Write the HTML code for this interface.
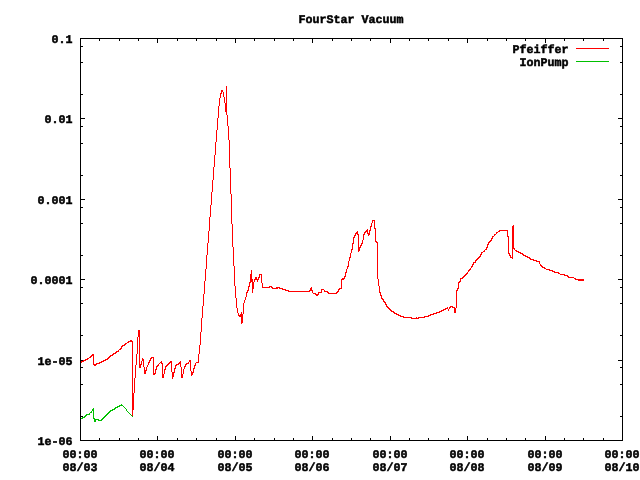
<!DOCTYPE html>
<html><head><meta charset="utf-8"><title>FourStar Vacuum</title>
<style>
html,body{margin:0;padding:0;background:#fff;}
body{width:640px;height:480px;overflow:hidden;position:relative;}
svg{position:absolute;left:0;top:0;display:block;}
text{font-family:"Liberation Mono",monospace;font-weight:bold;font-size:11.667px;fill:#000;stroke:#000;stroke-width:0.5px;stroke-linejoin:miter;text-rendering:geometricPrecision;}
</style></head><body>
<svg width="640" height="480" viewBox="0 0 640 480">
<rect x="0" y="0" width="640" height="480" fill="#ffffff"/>
<g fill="#000" shape-rendering="crispEdges">
<rect x="80" y="38" width="543" height="1"/>
<rect x="80" y="440" width="543" height="1"/>
<rect x="80" y="38" width="1" height="403"/>
<rect x="622" y="38" width="1" height="403"/>
<rect x="81" y="416" width="2" height="1"/>
<rect x="620" y="416" width="2" height="1"/>
<rect x="81" y="384" width="2" height="1"/>
<rect x="620" y="384" width="2" height="1"/>
<rect x="81" y="367" width="2" height="1"/>
<rect x="620" y="367" width="2" height="1"/>
<rect x="81" y="360" width="4" height="1"/>
<rect x="618" y="360" width="4" height="1"/>
<rect x="81" y="335" width="2" height="1"/>
<rect x="620" y="335" width="2" height="1"/>
<rect x="81" y="303" width="2" height="1"/>
<rect x="620" y="303" width="2" height="1"/>
<rect x="81" y="287" width="2" height="1"/>
<rect x="620" y="287" width="2" height="1"/>
<rect x="81" y="279" width="4" height="1"/>
<rect x="618" y="279" width="4" height="1"/>
<rect x="81" y="255" width="2" height="1"/>
<rect x="620" y="255" width="2" height="1"/>
<rect x="81" y="223" width="2" height="1"/>
<rect x="620" y="223" width="2" height="1"/>
<rect x="81" y="207" width="2" height="1"/>
<rect x="620" y="207" width="2" height="1"/>
<rect x="81" y="199" width="4" height="1"/>
<rect x="618" y="199" width="4" height="1"/>
<rect x="81" y="175" width="2" height="1"/>
<rect x="620" y="175" width="2" height="1"/>
<rect x="81" y="143" width="2" height="1"/>
<rect x="620" y="143" width="2" height="1"/>
<rect x="81" y="126" width="2" height="1"/>
<rect x="620" y="126" width="2" height="1"/>
<rect x="81" y="118" width="4" height="1"/>
<rect x="618" y="118" width="4" height="1"/>
<rect x="81" y="94" width="2" height="1"/>
<rect x="620" y="94" width="2" height="1"/>
<rect x="81" y="62" width="2" height="1"/>
<rect x="620" y="62" width="2" height="1"/>
<rect x="81" y="46" width="2" height="1"/>
<rect x="620" y="46" width="2" height="1"/>
<rect x="99" y="438" width="1" height="2"/>
<rect x="99" y="39" width="1" height="2"/>
<rect x="119" y="438" width="1" height="2"/>
<rect x="119" y="39" width="1" height="2"/>
<rect x="138" y="438" width="1" height="2"/>
<rect x="138" y="39" width="1" height="2"/>
<rect x="157" y="436" width="1" height="4"/>
<rect x="157" y="39" width="1" height="4"/>
<rect x="177" y="438" width="1" height="2"/>
<rect x="177" y="39" width="1" height="2"/>
<rect x="196" y="438" width="1" height="2"/>
<rect x="196" y="39" width="1" height="2"/>
<rect x="216" y="438" width="1" height="2"/>
<rect x="216" y="39" width="1" height="2"/>
<rect x="235" y="436" width="1" height="4"/>
<rect x="235" y="39" width="1" height="4"/>
<rect x="254" y="438" width="1" height="2"/>
<rect x="254" y="39" width="1" height="2"/>
<rect x="274" y="438" width="1" height="2"/>
<rect x="274" y="39" width="1" height="2"/>
<rect x="293" y="438" width="1" height="2"/>
<rect x="293" y="39" width="1" height="2"/>
<rect x="312" y="436" width="1" height="4"/>
<rect x="312" y="39" width="1" height="4"/>
<rect x="332" y="438" width="1" height="2"/>
<rect x="332" y="39" width="1" height="2"/>
<rect x="351" y="438" width="1" height="2"/>
<rect x="351" y="39" width="1" height="2"/>
<rect x="370" y="438" width="1" height="2"/>
<rect x="370" y="39" width="1" height="2"/>
<rect x="390" y="436" width="1" height="4"/>
<rect x="390" y="39" width="1" height="4"/>
<rect x="409" y="438" width="1" height="2"/>
<rect x="409" y="39" width="1" height="2"/>
<rect x="428" y="438" width="1" height="2"/>
<rect x="428" y="39" width="1" height="2"/>
<rect x="448" y="438" width="1" height="2"/>
<rect x="448" y="39" width="1" height="2"/>
<rect x="467" y="436" width="1" height="4"/>
<rect x="467" y="39" width="1" height="4"/>
<rect x="487" y="438" width="1" height="2"/>
<rect x="487" y="39" width="1" height="2"/>
<rect x="506" y="438" width="1" height="2"/>
<rect x="506" y="39" width="1" height="2"/>
<rect x="525" y="438" width="1" height="2"/>
<rect x="525" y="39" width="1" height="2"/>
<rect x="545" y="436" width="1" height="4"/>
<rect x="545" y="39" width="1" height="4"/>
<rect x="564" y="438" width="1" height="2"/>
<rect x="564" y="39" width="1" height="2"/>
<rect x="583" y="438" width="1" height="2"/>
<rect x="583" y="39" width="1" height="2"/>
<rect x="603" y="438" width="1" height="2"/>
<rect x="603" y="39" width="1" height="2"/>
</g>
<g shape-rendering="crispEdges"><rect x="576" y="48" width="33" height="1" fill="#ff0000"/><rect x="576" y="61" width="33" height="1" fill="#00c000"/></g>
<path fill="#ff0000" shape-rendering="crispEdges" d="M81 361h1v2h-1zM82 361h1v1h-1zM83 360h1v2h-1zM84 360h1v1h-1zM85 359h1v2h-1zM86 359h1v1h-1zM87 358h1v2h-1zM88 358h1v1h-1zM89 357h1v1h-1zM90 356h1v2h-1zM91 355h1v2h-1zM92 354h1v2h-1zM93 354h1v11h-1zM94 364h1v2h-1zM95 364h1v2h-1zM96 363h1v2h-1zM97 363h2v1h-2zM99 362h1v2h-1zM100 362h1v1h-1zM101 361h1v2h-1zM102 361h1v1h-1zM103 360h1v2h-1zM104 360h1v1h-1zM105 359h1v2h-1zM106 359h1v1h-1zM107 358h1v2h-1zM108 357h1v2h-1zM109 356h1v2h-1zM110 355h1v2h-1zM111 355h1v1h-1zM112 354h1v2h-1zM113 353h1v2h-1zM114 353h1v1h-1zM115 352h1v2h-1zM116 351h1v2h-1zM117 351h1v1h-1zM118 350h1v2h-1zM119 349h1v1h-1zM120 348h1v2h-1zM121 346h1v3h-1zM122 345h1v2h-1zM123 345h1v1h-1zM124 344h1v2h-1zM125 343h1v2h-1zM126 343h1v1h-1zM127 342h1v1h-1zM128 341h1v2h-1zM129 341h1v1h-1zM130 340h1v2h-1zM131 340h1v2h-1zM132 341h1v76h-1zM133 393h1v17h-1zM134 378h1v15h-1zM135 365h1v13h-1zM136 354h1v11h-1zM137 337h1v17h-1zM138 330h1v7h-1zM139 330h1v38h-1zM140 364h1v4h-1zM141 361h1v4h-1zM142 358h1v3h-1zM143 359h1v8h-1zM144 367h1v7h-1zM145 370h1v4h-1zM146 367h1v4h-1zM147 365h1v2h-1zM148 362h1v3h-1zM149 360h1v3h-1zM150 358h1v3h-1zM151 357h1v2h-1zM152 357h1v1h-1zM153 357h1v18h-1zM154 373h1v2h-1zM155 369h1v5h-1zM156 366h1v4h-1zM157 365h1v2h-1zM158 364h1v2h-1zM159 363h1v1h-1zM160 362h1v1h-1zM161 361h1v3h-1zM162 363h1v15h-1zM163 374h1v4h-1zM164 369h1v5h-1zM165 366h1v4h-1zM166 365h1v2h-1zM167 364h1v2h-1zM168 363h1v2h-1zM169 362h1v2h-1zM170 361h1v2h-1zM171 361h1v11h-1zM172 372h1v7h-1zM173 372h1v5h-1zM174 368h1v5h-1zM175 365h1v4h-1zM176 364h1v2h-1zM177 364h1v1h-1zM178 363h1v2h-1zM179 362h1v2h-1zM180 361h1v6h-1zM181 367h1v11h-1zM182 374h1v4h-1zM183 369h1v5h-1zM184 366h1v3h-1zM185 364h1v3h-1zM186 363h1v2h-1zM187 363h1v1h-1zM188 362h1v2h-1zM189 360h1v2h-1zM190 360h1v11h-1zM191 371h1v5h-1zM192 372h1v3h-1zM193 368h1v5h-1zM194 365h1v4h-1zM195 363h1v3h-1zM196 362h2v1h-2zM198 354h1v9h-1zM199 345h1v9h-1zM200 332h1v13h-1zM201 318h1v14h-1zM202 306h1v12h-1zM203 294h1v12h-1zM204 281h1v13h-1zM205 269h1v12h-1zM206 255h1v14h-1zM207 243h1v12h-1zM208 231h1v12h-1zM209 217h1v14h-1zM210 205h1v12h-1zM211 192h1v13h-1zM212 180h1v12h-1zM213 167h1v13h-1zM214 155h1v12h-1zM215 142h1v13h-1zM216 130h1v12h-1zM217 118h1v12h-1zM218 106h1v12h-1zM219 98h1v8h-1zM220 93h1v5h-1zM221 90h1v4h-1zM222 90h1v2h-1zM223 92h1v5h-1zM224 97h1v6h-1zM225 103h1v9h-1zM226 86h1v29h-1zM227 115h1v11h-1zM228 126h1v14h-1zM229 140h1v28h-1zM230 168h1v26h-1zM231 194h1v30h-1zM232 224h1v23h-1zM233 247h1v19h-1zM234 266h1v20h-1zM235 286h1v12h-1zM236 298h1v10h-1zM237 308h1v5h-1zM238 313h1v3h-1zM239 315h1v2h-1zM240 314h1v3h-1zM241 312h1v12h-1zM242 314h1v9h-1zM243 303h1v11h-1zM244 300h1v3h-1zM245 297h1v3h-1zM246 292h1v5h-1zM247 290h1v3h-1zM248 286h1v5h-1zM249 282h1v5h-1zM250 274h1v9h-1zM251 270h1v12h-1zM252 279h1v14h-1zM253 282h1v7h-1zM254 279h1v3h-1zM255 277h1v3h-1zM256 277h1v3h-1zM257 279h1v3h-1zM258 277h1v3h-1zM259 274h1v4h-1zM260 274h1v1h-1zM261 274h1v9h-1zM262 283h1v5h-1zM263 287h6v1h-6zM269 286h1v2h-1zM270 286h1v1h-1zM271 286h1v2h-1zM272 287h1v2h-1zM273 288h3v1h-3zM276 287h1v2h-1zM277 287h1v2h-1zM278 287h1v1h-1zM279 287h1v2h-1zM280 288h2v1h-2zM282 288h1v2h-1zM283 289h2v1h-2zM285 289h1v2h-1zM286 290h2v1h-2zM288 290h1v2h-1zM289 291h20v1h-20zM309 290h1v2h-1zM310 288h1v3h-1zM311 287h1v4h-1zM312 290h1v3h-1zM313 293h2v1h-2zM315 293h1v2h-1zM316 294h1v2h-1zM317 294h1v2h-1zM318 292h1v3h-1zM319 292h2v1h-2zM321 289h1v4h-1zM322 289h2v1h-2zM324 290h1v2h-1zM325 291h2v1h-2zM327 291h1v2h-1zM328 292h1v2h-1zM329 293h7v1h-7zM336 292h1v2h-1zM337 291h1v2h-1zM338 289h1v3h-1zM339 288h1v2h-1zM340 288h1v1h-1zM341 279h1v10h-1zM342 278h1v2h-1zM343 278h1v2h-1zM344 276h1v3h-1zM345 272h1v5h-1zM346 269h1v4h-1zM347 266h1v3h-1zM348 261h1v6h-1zM349 257h1v4h-1zM350 253h1v5h-1zM351 249h1v4h-1zM352 243h1v7h-1zM353 237h1v7h-1zM354 235h1v3h-1zM355 233h1v3h-1zM356 232h1v2h-1zM357 231h1v4h-1zM358 234h1v18h-1zM359 247h1v4h-1zM360 245h1v3h-1zM361 243h1v3h-1zM362 240h1v4h-1zM363 234h1v6h-1zM364 232h1v3h-1zM365 231h1v2h-1zM366 230h1v2h-1zM367 229h1v5h-1zM368 233h1v3h-1zM369 230h1v5h-1zM370 226h1v5h-1zM371 223h1v4h-1zM372 220h1v3h-1zM373 220h1v1h-1zM374 220h1v9h-1zM375 228h1v14h-1zM376 241h1v2h-1zM377 242h1v37h-1zM378 279h1v7h-1zM379 286h1v7h-1zM380 292h1v4h-1zM381 295h1v4h-1zM382 298h1v2h-1zM383 299h1v3h-1zM384 301h1v2h-1zM385 302h1v3h-1zM386 304h1v3h-1zM387 306h1v2h-1zM388 307h1v2h-1zM389 308h1v2h-1zM390 309h1v2h-1zM391 310h1v2h-1zM392 311h1v1h-1zM393 311h1v2h-1zM394 312h1v2h-1zM395 313h1v1h-1zM396 313h1v2h-1zM397 314h1v1h-1zM398 314h1v2h-1zM399 315h1v1h-1zM400 315h1v2h-1zM401 316h2v1h-2zM403 316h1v2h-1zM404 317h7v1h-7zM411 317h1v2h-1zM412 318h4v1h-4zM416 317h1v2h-1zM417 318h1v1h-1zM418 317h1v2h-1zM419 317h5v1h-5zM424 316h1v2h-1zM425 316h3v1h-3zM428 315h1v2h-1zM429 315h1v1h-1zM430 314h1v2h-1zM431 314h2v1h-2zM433 313h1v2h-1zM434 313h2v1h-2zM436 312h1v2h-1zM437 312h2v1h-2zM439 311h1v2h-1zM440 311h1v1h-1zM441 310h1v2h-1zM442 310h1v1h-1zM443 309h1v2h-1zM444 309h1v1h-1zM445 308h1v2h-1zM446 308h1v1h-1zM447 307h1v2h-1zM448 309h1v2h-1zM449 307h1v2h-1zM450 306h1v2h-1zM451 306h1v1h-1zM452 306h1v2h-1zM453 307h1v1h-1zM454 307h1v6h-1zM455 308h1v5h-1zM456 290h1v18h-1zM457 288h1v3h-1zM458 282h1v7h-1zM459 281h1v2h-1zM460 278h1v4h-1zM461 278h1v1h-1zM462 277h1v2h-1zM463 276h1v2h-1zM464 275h1v2h-1zM465 274h1v2h-1zM466 273h1v2h-1zM467 272h1v2h-1zM468 270h1v2h-1zM469 269h1v2h-1zM470 268h1v2h-1zM471 266h1v2h-1zM472 264h1v3h-1zM473 262h1v3h-1zM474 262h1v1h-1zM475 260h1v3h-1zM476 259h1v2h-1zM477 258h1v2h-1zM478 257h1v2h-1zM479 256h1v2h-1zM480 254h1v3h-1zM481 252h1v3h-1zM482 252h1v1h-1zM483 251h1v1h-1zM484 250h1v2h-1zM485 249h1v1h-1zM486 247h1v3h-1zM487 244h1v4h-1zM488 242h1v3h-1zM489 241h1v2h-1zM490 240h1v2h-1zM491 238h1v3h-1zM492 236h1v3h-1zM493 236h1v1h-1zM494 234h1v2h-1zM495 234h1v1h-1zM496 232h1v2h-1zM497 232h1v1h-1zM498 231h1v1h-1zM499 230h1v2h-1zM500 230h7v1h-7zM507 230h1v7h-1zM508 236h1v18h-1zM509 253h1v3h-1zM510 255h1v3h-1zM511 257h1v1h-1zM512 226h1v33h-1zM513 225h1v24h-1zM514 248h1v2h-1zM515 250h1v1h-1zM516 250h1v2h-1zM517 251h1v1h-1zM518 251h1v2h-1zM519 252h1v1h-1zM520 252h1v2h-1zM521 253h1v1h-1zM522 253h1v2h-1zM523 254h1v2h-1zM524 255h1v1h-1zM525 255h1v2h-1zM526 256h1v1h-1zM527 256h1v2h-1zM528 257h1v1h-1zM529 257h1v2h-1zM530 258h1v2h-1zM531 259h2v1h-2zM533 259h1v2h-1zM534 260h2v1h-2zM536 260h1v2h-1zM537 261h2v1h-2zM539 261h1v3h-1zM540 264h1v2h-1zM541 265h1v2h-1zM542 266h1v2h-1zM543 267h1v1h-1zM544 267h1v2h-1zM545 268h1v1h-1zM546 269h3v1h-3zM549 269h1v2h-1zM550 270h2v1h-2zM552 270h1v2h-1zM553 271h1v1h-1zM554 271h1v2h-1zM555 272h3v1h-3zM558 272h1v2h-1zM559 273h1v1h-1zM560 274h4v1h-4zM564 274h1v2h-1zM565 275h2v1h-2zM567 275h1v2h-1zM568 276h1v2h-1zM569 277h5v1h-5zM574 278h1v1h-1zM575 278h1v2h-1zM576 279h2v1h-2zM578 279h1v2h-1zM579 279h1v2h-1zM580 279h1v2h-1zM581 279h1v2h-1zM582 279h1v2h-1zM583 279h1v2h-1z"/>
<path fill="#00c000" shape-rendering="crispEdges" d="M81 418h1v1h-1zM82 417h1v2h-1zM83 417h1v1h-1zM84 416h1v2h-1zM85 415h1v2h-1zM86 414h1v2h-1zM87 414h2v1h-2zM89 413h1v2h-1zM90 412h1v1h-1zM91 411h1v2h-1zM92 409h1v2h-1zM93 408h1v11h-1zM94 418h1v4h-1zM95 419h1v3h-1zM96 419h2v1h-2zM98 419h1v2h-1zM99 420h2v1h-2zM101 419h1v2h-1zM102 418h1v2h-1zM103 417h1v2h-1zM104 416h1v2h-1zM105 415h1v2h-1zM106 414h1v2h-1zM107 413h1v2h-1zM108 412h1v2h-1zM109 411h1v2h-1zM110 410h1v2h-1zM111 410h1v1h-1zM112 409h1v2h-1zM113 409h1v1h-1zM114 408h1v2h-1zM115 407h1v2h-1zM116 407h1v1h-1zM117 406h1v2h-1zM118 406h1v1h-1zM119 405h1v2h-1zM120 405h1v1h-1zM121 404h1v2h-1zM122 405h1v1h-1zM123 406h1v1h-1zM124 407h1v1h-1zM125 408h1v1h-1zM126 409h1v2h-1zM127 411h1v1h-1zM128 412h1v1h-1zM129 413h1v1h-1zM130 414h1v1h-1zM131 415h1v1h-1zM132 416h1v1h-1z"/>
<g style="filter:grayscale(1)">
<text transform="translate(298.5,23) scale(1,1)" x="0" y="0" textLength="105" lengthAdjust="spacing">FourStar Vacuum</text>
<text transform="translate(512.5,53) scale(1,1)" x="0" y="0" textLength="56" lengthAdjust="spacing">Pfeiffer</text>
<text transform="translate(519.5,66) scale(1,1)" x="0" y="0" textLength="49" lengthAdjust="spacing">IonPump</text>
<text transform="translate(37.5,445) scale(1,1)" x="0" y="0" textLength="35" lengthAdjust="spacing">1e-06</text>
<text transform="translate(37.5,365) scale(1,1)" x="0" y="0" textLength="35" lengthAdjust="spacing">1e-05</text>
<text transform="translate(30.5,284) scale(1,1)" x="0" y="0" textLength="42" lengthAdjust="spacing">0.0001</text>
<text transform="translate(37.5,204) scale(1,1)" x="0" y="0" textLength="35" lengthAdjust="spacing">0.001</text>
<text transform="translate(44.5,123) scale(1,1)" x="0" y="0" textLength="28" lengthAdjust="spacing">0.01</text>
<text transform="translate(51.5,43) scale(1,1)" x="0" y="0" textLength="21" lengthAdjust="spacing">0.1</text>
<text transform="translate(62.5,458) scale(1,1)" x="0" y="0" textLength="35" lengthAdjust="spacing">00:00</text>
<text transform="translate(62.5,471) scale(1,1)" x="0" y="0" textLength="35" lengthAdjust="spacing">08/03</text>
<text transform="translate(139.5,458) scale(1,1)" x="0" y="0" textLength="35" lengthAdjust="spacing">00:00</text>
<text transform="translate(139.5,471) scale(1,1)" x="0" y="0" textLength="35" lengthAdjust="spacing">08/04</text>
<text transform="translate(217.5,458) scale(1,1)" x="0" y="0" textLength="35" lengthAdjust="spacing">00:00</text>
<text transform="translate(217.5,471) scale(1,1)" x="0" y="0" textLength="35" lengthAdjust="spacing">08/05</text>
<text transform="translate(294.5,458) scale(1,1)" x="0" y="0" textLength="35" lengthAdjust="spacing">00:00</text>
<text transform="translate(294.5,471) scale(1,1)" x="0" y="0" textLength="35" lengthAdjust="spacing">08/06</text>
<text transform="translate(372.5,458) scale(1,1)" x="0" y="0" textLength="35" lengthAdjust="spacing">00:00</text>
<text transform="translate(372.5,471) scale(1,1)" x="0" y="0" textLength="35" lengthAdjust="spacing">08/07</text>
<text transform="translate(449.5,458) scale(1,1)" x="0" y="0" textLength="35" lengthAdjust="spacing">00:00</text>
<text transform="translate(449.5,471) scale(1,1)" x="0" y="0" textLength="35" lengthAdjust="spacing">08/08</text>
<text transform="translate(527.5,458) scale(1,1)" x="0" y="0" textLength="35" lengthAdjust="spacing">00:00</text>
<text transform="translate(527.5,471) scale(1,1)" x="0" y="0" textLength="35" lengthAdjust="spacing">08/09</text>
<text transform="translate(604.5,458) scale(1,1)" x="0" y="0" textLength="35" lengthAdjust="spacing">00:00</text>
<text transform="translate(604.5,471) scale(1,1)" x="0" y="0" textLength="35" lengthAdjust="spacing">08/10</text>
</g>
</svg>
</body></html>
